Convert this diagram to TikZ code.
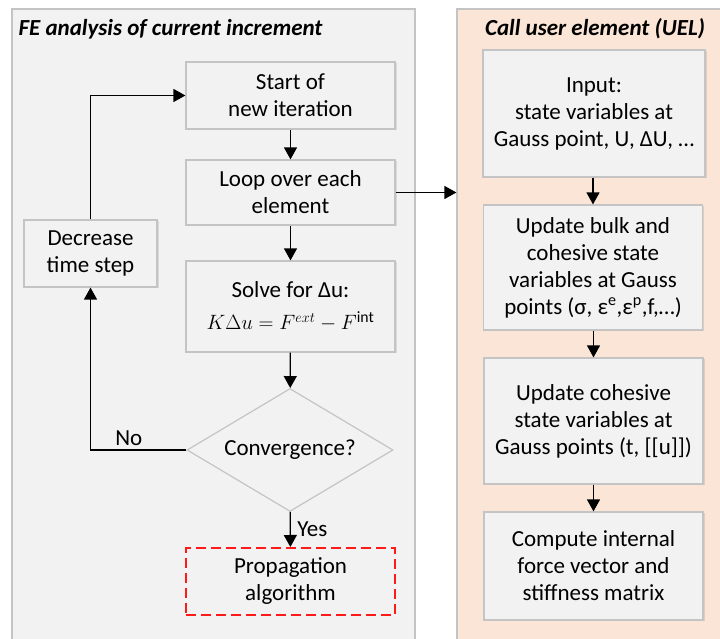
\documentclass[tikz,border=0pt]{standalone}
\usepackage{fontspec}
\setmainfont{Carlito}
\usetikzlibrary{arrows.meta,positioning,shapes.geometric,shadows}
\definecolor{boxfill}{HTML}{F2F2F2}
\definecolor{boxline}{HTML}{C4C4C4}
\definecolor{uelfill}{HTML}{FBE5D6}
\definecolor{propred}{HTML}{FF1A1A}

\begin{document}
\begin{tikzpicture}[x=1pt,y=1pt,font=\fontsize{23}{27}\selectfont,
 panel/.style={draw=boxline,line width=1.2pt,inner sep=0pt},
 box/.style={draw=boxline,fill=boxfill,line width=1.2pt,align=center,inner sep=2pt,
   drop shadow={shadow xshift=1.5pt,shadow yshift=-1.5pt,fill=black,opacity=0.1}},
 title/.style={font=\fontsize{23}{27}\selectfont\bfseries\itshape},
 arr/.style={-{Triangle[length=12pt,width=13pt]},line width=1.3pt}]
\clip (0,0) rectangle (720,639);
\fill[white] (0,0) rectangle (720,639);
% the two panels
\node[panel,fill=boxfill,minimum width=403pt,minimum height=640pt] (fe) at (213.5,310) {};
\node[panel,fill=uelfill,minimum width=270pt,minimum height=640pt] (uel) at (592,310) {};
\node[title,anchor=west] (fetitle) at (15,610) {FE analysis of current increment};
\node[title] (ueltitle) at (595,610) {Call user element (UEL)};
% FE loop
\node[box,minimum width=209pt,minimum height=67pt] (start) at (290.5,543.5) {Start of\\new iteration};
\node[box,minimum width=209pt,minimum height=65pt] (loop) at (290.5,446.5) {Loop over each\\element};
\node[box,minimum width=209pt,minimum height=91pt] (solve) at (290.5,332.5)
  {Solve for Δu:\\[5pt]{\fontsize{22.5}{26}\selectfont$K\Delta u = F^{ext} - F^{\mathrm{int}}$}};
\node[draw=boxline,fill=boxfill,line width=1.2pt,diamond,aspect=1.67,inner sep=0pt,
  minimum width=206pt,minimum height=123pt] (conv) at (290,189) {Convergence?};
\node[draw=propred,fill=boxfill,line width=2pt,dash pattern=on 10pt off 5pt,align=center,
  minimum width=209pt,minimum height=67pt] (prop) at (290.5,57.5) {Propagation\\algorithm};
\node[box,minimum width=133pt,minimum height=67pt] (dec) at (90.5,385.5) {Decrease\\time step};
% UEL steps
\node[box,minimum width=222pt,minimum height=127pt] (input) at (594,525.5)
  {Input:\\state variables at\\Gauss point, U, ΔU, …};
\node[box,minimum width=219pt,minimum height=125pt] (bulk) at (593,371.5)
  {Update bulk and\\cohesive state\\variables at Gauss\\points (σ, ε\textsuperscript{e},ε\textsuperscript{p},f,…)};
\node[box,minimum width=219pt,minimum height=126pt] (coh) at (593.5,218)
  {Update cohesive\\state variables at\\Gauss points (t, [[u]])};
\node[box,minimum width=219pt,minimum height=108pt] (comp) at (593.5,73)
  {Compute internal\\force vector and\\stiffness matrix};
% connectors
\draw[arr] (start) -- (loop);
\draw[arr] (loop) -- (solve);
\draw[arr] (solve) -- (conv);
\draw[arr] (conv) -- node[right,xshift=3pt] {Yes} (prop);
\draw[arr] (conv.west) -| node[above,pos=0.3] {No} (dec.south);
\draw[arr] (dec.north) |- (start.west);
\draw[arr] (loop.east) -- (loop.east -| uel.west);
\draw[arr] (input.south -| bulk.north) -- (bulk.north);
\draw[arr] (bulk.south -| coh.north) -- (coh.north);
\draw[arr] (coh) -- (comp);
\end{tikzpicture}
\end{document}
